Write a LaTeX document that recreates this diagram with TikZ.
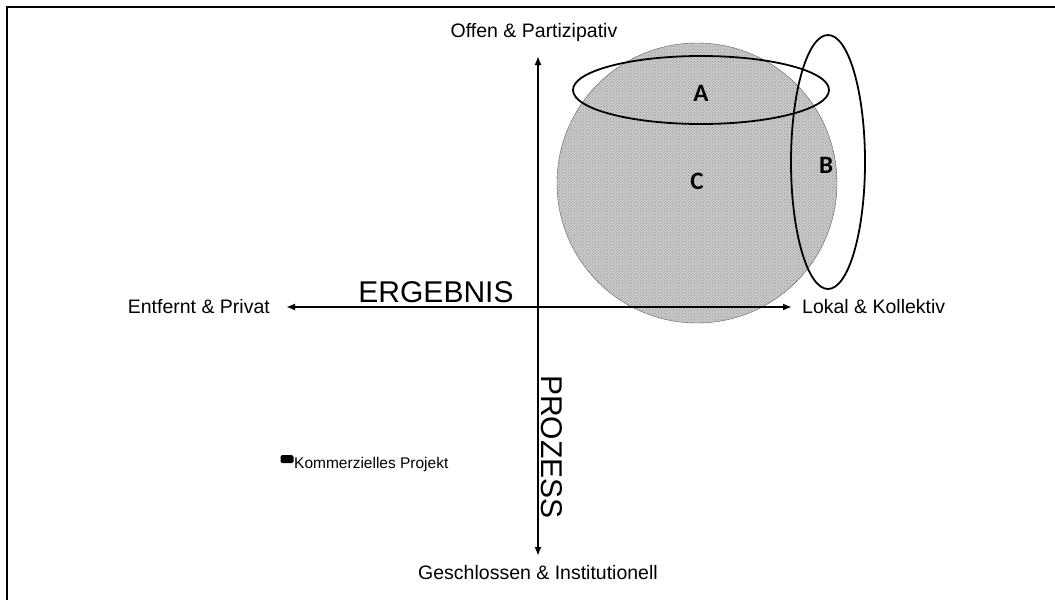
\documentclass[tikz,border=0pt]{standalone}
\usepackage{fontspec}
\setmainfont{Liberation Sans}
\newfontfamily\lblfont{Carlito}
\usepackage{tikz}
\usetikzlibrary{arrows.meta,calc,positioning,patterns}
\definecolor{dotgray}{RGB}{200,200,200}
\tikzset{
  axis/.style={line width=2pt,{Latex[length=9pt,width=7pt]}-{Latex[length=9pt,width=7pt]}},
  pole/.style={font=\fontsize{19.5}{22}\selectfont,inner sep=0pt},
  dim/.style={font=\fontsize{30}{32}\selectfont,inner sep=0pt},
  setlbl/.style={font=\lblfont\bfseries\fontsize{25}{27}\selectfont,inner sep=0pt},
  setline/.style={line width=1.8pt}
}
\begin{document}
\begin{tikzpicture}[x=1pt,y=-1pt]
                \useasboundingbox (0,0) rectangle (1055,600);
                \coordinate (top) at (538,56);
                \coordinate (bottom) at (538,556);
                \coordinate (left) at (286,307);
                \coordinate (right) at (792,307);
                %Frame
                \draw[line width=2pt] (7,600) -- (7,7) -- (1055,7);
                %Sets
                \filldraw[fill=dotgray,draw=gray!70!black,thin] (697,183) circle[radius=140pt];
                \fill[pattern=crosshatch dots,pattern color=gray!80] (697,183) circle[radius=140pt];
                \draw[setline] (701,90) ellipse[x radius=128pt,y radius=34pt];
                \draw[setline] (828,162) ellipse[x radius=37pt,y radius=127pt];
                \node[setlbl] (A) at (701,93) {A};
                \node[setlbl] (B) at (826,165) {B};
                \node[setlbl] (C) at (697,181) {C};
                %Axis
                \draw[axis] (left) -- (right);
                \draw[axis] (bottom) -- (top);
                \node[pole,anchor=east] (private) at ($(left)+(-16,0)$) {Entfernt \& Privat};
                \node[pole,anchor=west] (local) at ($(right)+(10,0)$) {Lokal \& Kollektiv};
                \node[pole,anchor=south] (open) at ($(top)+(-4,-14)$) {Offen \& Partizipativ};
                \node[pole,anchor=north] (closed) at ($(bottom)+(0,9)$) {Geschlossen \& Institutionell};
                \node[dim,anchor=base] (result) at (436,302) {ERGEBNIS};
                \node[dim,anchor=base,rotate=-90] (process) at (541,447) {PROZESS};
                %Project
                \node[fill=black,rounded corners=1.5pt,minimum width=13pt,minimum height=8pt,inner sep=0pt] (mark) at (287,459) {};
                \node[anchor=west,inner sep=0pt,font=\fontsize{15.5}{17}\selectfont] (project) at (294,464) {Kommerzielles Projekt};
            \end{tikzpicture}
\end{document}
